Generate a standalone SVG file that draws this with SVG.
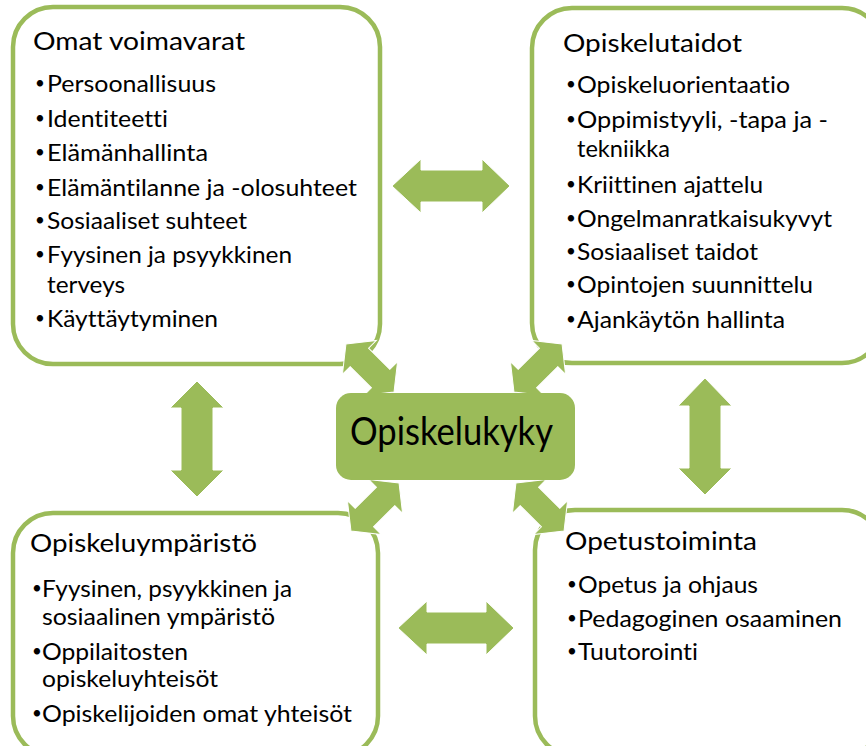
<svg xmlns="http://www.w3.org/2000/svg" width="866" height="746" viewBox="0 0 866 746">
<style>
.box{fill:#fff;stroke:#9BBB59;stroke-width:4.5}
.arr{fill:#9BBB59;stroke:#fff;stroke-width:1}
.cbox{fill:#9BBB59;stroke:none}
text{font-family:Lato,"Open Sans","Liberation Sans",sans-serif;fill:#000;font-variant-ligatures:none}
.title{font-size:25px}
.item{font-size:23px}
.b{font-size:17px}
.center{font-size:38px}
</style>
<defs>
<path id="diag" d="M-34 0 L-15 -24 L-15 -13 L15 -13 L15 -24 L34 0 L15 24 L15 13 L-15 13 L-15 24 Z"/>
</defs>
<rect width="866" height="746" fill="#fff"/>

<g id="omat-voimavarat">
<rect class="box" x="13" y="7" width="367" height="357" rx="40"/>
<text class="title" x="33" y="50" textLength="212" lengthAdjust="spacingAndGlyphs">Omat voimavarat</text>
<g class="item">
<text class="b" x="35" y="89">•</text><text x="47" y="92" textLength="169" lengthAdjust="spacingAndGlyphs">Persoonallisuus</text>
<text class="b" x="35" y="124">•</text><text x="47" y="127" textLength="121" lengthAdjust="spacingAndGlyphs">Identiteetti</text>
<text class="b" x="35" y="158">•</text><text x="47" y="161" textLength="161" lengthAdjust="spacingAndGlyphs">Elämänhallinta</text>
<text class="b" x="35" y="193">•</text><text x="47" y="196" textLength="310" lengthAdjust="spacingAndGlyphs">Elämäntilanne ja -olosuhteet</text>
<text class="b" x="35" y="226">•</text><text x="47" y="229" textLength="200" lengthAdjust="spacingAndGlyphs">Sosiaaliset suhteet</text>
<text class="b" x="35" y="260">•</text><text x="47" y="263" textLength="245" lengthAdjust="spacingAndGlyphs">Fyysinen ja psyykkinen</text>
<text x="47" y="293" textLength="78" lengthAdjust="spacingAndGlyphs">terveys</text>
<text class="b" x="35" y="324">•</text><text x="47" y="327" textLength="171" lengthAdjust="spacingAndGlyphs">Käyttäytyminen</text>
</g>
</g>

<g id="opiskelutaidot">
<rect class="box" x="532" y="8" width="350" height="355" rx="40"/>
<text class="title" x="563" y="52" textLength="179" lengthAdjust="spacingAndGlyphs">Opiskelutaidot</text>
<g class="item">
<text class="b" x="566" y="90">•</text><text x="577" y="93" textLength="213" lengthAdjust="spacingAndGlyphs">Opiskeluorientaatio</text>
<text class="b" x="566" y="125">•</text><text x="577" y="128" textLength="251" lengthAdjust="spacingAndGlyphs">Oppimistyyli, -tapa ja -</text>
<text x="577" y="157" textLength="93" lengthAdjust="spacingAndGlyphs">tekniikka</text>
<text class="b" x="566" y="190">•</text><text x="577" y="193" textLength="186" lengthAdjust="spacingAndGlyphs">Kriittinen ajattelu</text>
<text class="b" x="566" y="224">•</text><text x="577" y="227" textLength="255" lengthAdjust="spacingAndGlyphs">Ongelmanratkaisukyvyt</text>
<text class="b" x="566" y="257">•</text><text x="577" y="260" textLength="181" lengthAdjust="spacingAndGlyphs">Sosiaaliset taidot</text>
<text class="b" x="566" y="290">•</text><text x="577" y="293" textLength="236" lengthAdjust="spacingAndGlyphs">Opintojen suunnittelu</text>
<text class="b" x="566" y="325">•</text><text x="577" y="328" textLength="208" lengthAdjust="spacingAndGlyphs">Ajankäytön hallinta</text>
</g>
</g>

<g id="opiskeluymparisto">
<rect class="box" x="13" y="513" width="365" height="243" rx="40"/>
<text class="title" x="30" y="552" textLength="227" lengthAdjust="spacingAndGlyphs">Opiskeluympäristö</text>
<g class="item">
<text class="b" x="32" y="594">•</text><text x="42" y="597" textLength="250" lengthAdjust="spacingAndGlyphs">Fyysinen, psyykkinen ja</text>
<text x="42" y="625" textLength="233" lengthAdjust="spacingAndGlyphs">sosiaalinen ympäristö</text>
<text class="b" x="32" y="657">•</text><text x="42" y="660" textLength="146" lengthAdjust="spacingAndGlyphs">Oppilaitosten</text>
<text x="42" y="687" textLength="176" lengthAdjust="spacingAndGlyphs">opiskeluyhteisöt</text>
<text class="b" x="32" y="719">•</text><text x="42" y="722" textLength="310" lengthAdjust="spacingAndGlyphs">Opiskelijoiden omat yhteisöt</text>
</g>
</g>

<g id="opetustoiminta">
<rect class="box" x="535" y="510" width="347" height="246" rx="40"/>
<text class="title" x="565" y="550" textLength="192" lengthAdjust="spacingAndGlyphs">Opetustoiminta</text>
<g class="item">
<text class="b" x="567" y="590">•</text><text x="578" y="593" textLength="180" lengthAdjust="spacingAndGlyphs">Opetus ja ohjaus</text>
<text class="b" x="567" y="624">•</text><text x="578" y="627" textLength="264" lengthAdjust="spacingAndGlyphs">Pedagoginen osaaminen</text>
<text class="b" x="567" y="657">•</text><text x="578" y="660" textLength="120" lengthAdjust="spacingAndGlyphs">Tuutorointi</text>
</g>
</g>

<g id="connectors">
<use href="#diag" class="arr" transform="translate(370 368) rotate(45)"/>
<use href="#diag" class="arr" transform="translate(538 368) rotate(-45)"/>
<use href="#diag" class="arr" transform="translate(375 507) rotate(-45)"/>
<use href="#diag" class="arr" transform="translate(540 507) rotate(45)"/>
<path class="arr" d="M392 186 L421 159 L421 170 L482 170 L482 159 L510 186 L482 213 L482 202 L421 202 L421 213 Z"/>
<path class="arr" d="M398 628 L427 601 L427 612 L486 612 L486 601 L514 628 L486 655 L486 644 L427 644 L427 655 Z"/>
<path class="arr" d="M197 381 L224 408 L213 408 L213 470 L224 470 L197 497 L170 470 L181 470 L181 408 L170 408 Z"/>
<path class="arr" d="M705 378 L732 406 L721 406 L721 468 L732 468 L705 495 L678 468 L689 468 L689 406 L678 406 Z"/>
</g>

<g id="opiskelukyky">
<rect class="cbox" x="336" y="393" width="239" height="87" rx="15"/>
<text class="center" x="350" y="445" textLength="203" lengthAdjust="spacingAndGlyphs">Opiskelukyky</text>
</g>
</svg>
